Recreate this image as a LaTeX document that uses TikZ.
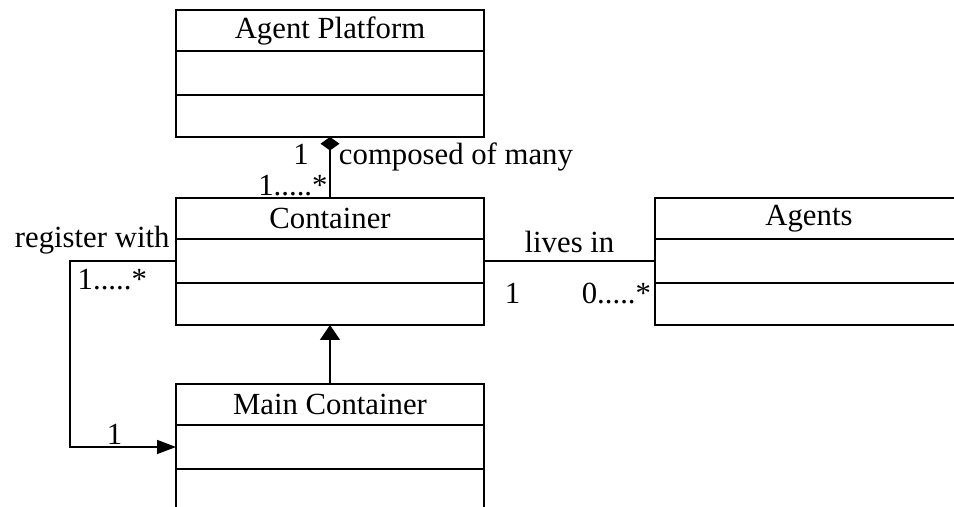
\documentclass[tikz,border=0pt]{standalone}
\usepackage{fontspec}
\setmainfont{Liberation Serif}
\usetikzlibrary{arrows.meta,positioning}

\begin{document}
\begin{tikzpicture}[
    x=0.02cm,y=-0.02cm,
    node distance=0pt,
    font=\fontsize{17.5}{21}\selectfont,
    classname/.style={
      rectangle,draw,line width=0.8pt,inner sep=0pt,outer sep=0pt,
      minimum width=6.16cm,minimum height=0.82cm,align=center
    },
    classpart/.style={
      rectangle,draw,line width=0.8pt,inner sep=0pt,outer sep=0pt,
      minimum width=6.16cm,minimum height=0.88cm
    },
    classops/.style={classpart,minimum height=0.84cm},
    assoc/.style={line width=0.8pt},
    mult/.style={inner sep=3pt}
  ]
    \useasboundingbox (0,0) rectangle (954,507);
    \clip (0,0) rectangle (954,507);

    % classes
    \node[classname,anchor=north] (ap) at (330,10) {Agent Platform};
    \node[classpart,below=of ap] (ap-attr) {};
    \node[classops,below=of ap-attr] (ap-op) {};

    \node[classname,anchor=north] (cont) at (330,198) {Container};
    \node[classpart,below=of cont] (cont-attr) {};
    \node[classops,below=of cont-attr] (cont-op) {};

    \node[classname,anchor=north west] (ag) at (655,198) {Agents};
    \node[classpart,below=of ag] (ag-attr) {};
    \node[classops,below=of ag-attr] (ag-op) {};

    \node[classname,anchor=north] (mc) at (330,384) {Main Container};
    \node[classpart,below=of mc] (mc-attr) {};
    \node[classops,below=of mc-attr] (mc-op) {};

    \coordinate (regx) at (70,0);

    % relations
    \draw[assoc,-{Diamond[length=0.27cm,width=0.38cm]}] (cont.north)
      node[anchor=south east,inner sep=1pt] {1.....*}
      -- (ap-op.south)
      node[pos=0.71,anchor=east,inner sep=2pt,xshift=-0.34cm] {1}
      node[mult,pos=0.67,anchor=west,xshift=0.06cm] {composed of many};

    \draw[assoc,-{Triangle[length=0.38cm,width=0.28cm]}] (cont-attr.west)
      node[anchor=south east] {register with}
      -- (cont-attr.west -| regx)
      node[anchor=north west,inner sep=4pt] {1.....*}
      |- (mc-attr.west)
      node[pos=0.71,above,inner sep=1pt] {1};

    \draw[assoc] (cont-attr.east) -- (ag-attr.west)
      node[midway,above,inner sep=4pt] {lives in}
      node[mult,pos=0,anchor=north west,xshift=0.3cm,yshift=-0.32cm] {1}
      node[mult,pos=1,anchor=north east,xshift=0.04cm,yshift=-0.32cm] {0.....*};

    \draw[assoc,-{Triangle[length=0.3cm,width=0.4cm]}] (mc.north) -- (cont-op.south);
\end{tikzpicture}
\end{document}
